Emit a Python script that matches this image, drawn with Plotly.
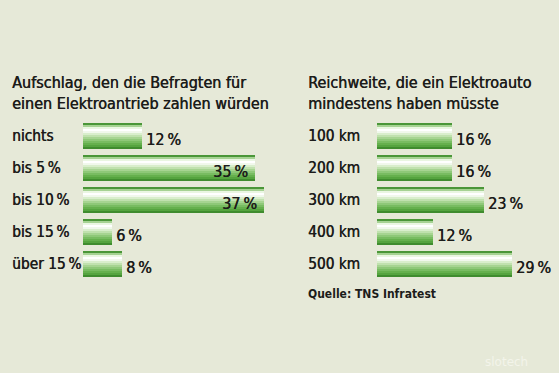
import plotly.graph_objects as go

# ---- data ----
left_title = "Aufschlag, den die Befragten für<br>einen Elektroantrieb zahlen würden"
left_cats = ["nichts", "bis 5\u2009%", "bis 10\u2009%", "bis 15\u2009%", "über 15\u2009%"]
left_vals = [12, 35, 37, 6, 8]

right_title = "Reichweite, die ein Elektroauto<br>mindestens haben müsste"
right_cats = ["100 km", "200 km", "300 km", "400 km", "500 km"]
right_vals = [16, 16, 23, 12, 29]

source = "Quelle: TNS Infratest"

# ---- style ----
W, H = 559, 373
BG = "#e6e9d8"
TXT = "#1c1c1a"
FONT = "DejaVu Sans Condensed, sans-serif"
FS = 16
SH = "0.45px 0 0 %s" % TXT
grad = ["#4a9638", "#a6d293", "#eaf6e2", "#ffffff", "#f1f8ec", "#d9eecc",
        "#c0e1ae", "#a6d491", "#8ec878", "#78bc61", "#65b04d", "#55a43f", "#3f8c2e"]
bar_w = 0.8125
strip = bar_w / len(grad)

def tfont(size=FS):
    return dict(family=FONT, size=size, color=TXT, shadow=SH)

fig = go.Figure()

def add_panel(cats, vals, xa, ya):
    for k, c in enumerate(grad):
        fig.add_trace(go.Bar(
            x=vals, y=cats, orientation="h",
            width=strip * (1.08 if k < len(grad) - 1 else 1.0),
            offset=-bar_w / 2 + k * strip,
            marker=dict(color=c, line=dict(width=0)),
            xaxis=xa, yaxis=ya, hoverinfo="skip", showlegend=False))

add_panel(left_cats, left_vals, "x", "y")
add_panel(right_cats, right_vals, "x2", "y2")

ann = []
def labels(cats, vals, xref, yref, xlab, inside_min):
    for c, v in zip(cats, vals):
        inside = v >= inside_min
        ann.append(dict(x=v, y=c, xref=xref, yref=yref, text=f"{v}\u2009%",
                        showarrow=False, xanchor="right" if inside else "left",
                        xshift=-5 if inside else 2, yshift=-3, font=tfont()))
        ann.append(dict(x=xlab, y=c, xref="paper", yref=yref, text=c,
                        showarrow=False, xanchor="left", yshift=0, font=tfont(15.3)))

labels(left_cats, left_vals, "x", "y", 10 / W, 30)
labels(right_cats, right_vals, "x2", "y2", 306 / W, 100)

ann.append(dict(x=10 / W, y=1 - 71 / H, xref="paper", yref="paper", text=left_title,
                showarrow=False, xanchor="left", yanchor="top", align="left", font=tfont()))
ann.append(dict(x=306 / W, y=1 - 71 / H, xref="paper", yref="paper", text=right_title,
                showarrow=False, xanchor="left", yanchor="top", align="left", font=tfont()))
ann.append(dict(x=306 / W, y=1 - 294 / H, xref="paper", yref="paper", text="<b>" + source + "</b>",
                showarrow=False, xanchor="left", yanchor="middle",
                font=dict(family=FONT, size=12, color=TXT)))
ann.append(dict(x=530 / W, y=1 - 362 / H, xref="paper", yref="paper", text="slotech",
                showarrow=False, xanchor="right", yanchor="middle",
                font=dict(family="DejaVu Sans", size=12, color="#f3f4ea")))

y_dom = [1 - 280 / H, 1 - 120 / H]
axis_off = dict(showgrid=False, zeroline=False, showticklabels=False, showline=False, ticks="")
fig.update_layout(
    width=W, height=H, margin=dict(l=0, r=0, t=0, b=0),
    paper_bgcolor=BG, plot_bgcolor=BG, barmode="overlay", bargap=0,
    xaxis=dict(domain=[83 / W, 280 / W], range=[0, 197 / 4.9], **axis_off),
    xaxis2=dict(domain=[377 / W, 1.0], range=[0, 182 / 4.67], **axis_off),
    yaxis=dict(domain=y_dom, type="category", categoryorder="array", categoryarray=left_cats,
               range=[4.5, -0.5], anchor="x", **axis_off),
    yaxis2=dict(domain=y_dom, type="category", categoryorder="array", categoryarray=right_cats,
                range=[4.5, -0.5], anchor="x2", **axis_off),
    annotations=ann,
)

fig.write_html("out.html", config={"displayModeBar": False})
with open("out.html", encoding="utf-8") as f:
    html = f.read()
html = html.replace("<head>", "<head><style>html,body{margin:0;padding:0;overflow:hidden;background:%s}</style>" % BG, 1)
with open("out.html", "w", encoding="utf-8") as f:
    f.write(html)
